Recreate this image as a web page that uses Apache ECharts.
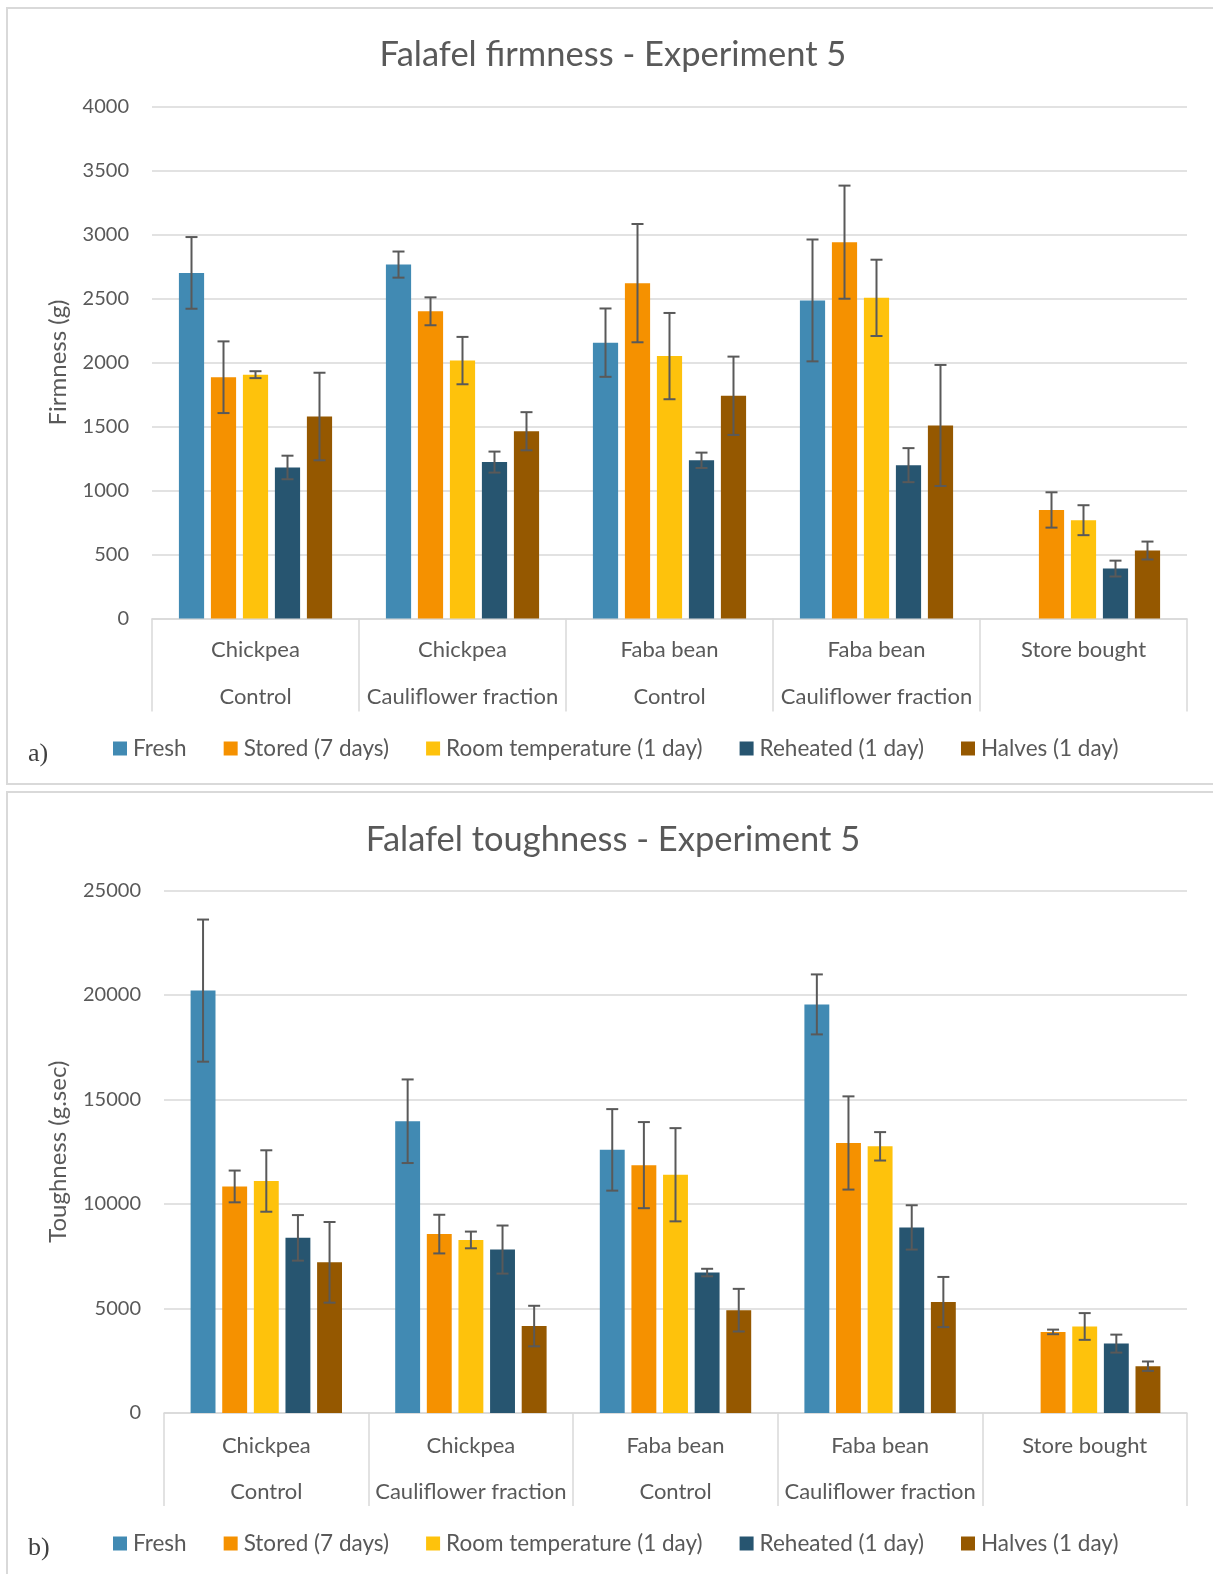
<!DOCTYPE html>
<html>
<head>
<meta charset="utf-8">
<title>Falafel texture - Experiment 5</title>
<script src="https://cdn.jsdelivr.net/npm/echarts@6/dist/echarts.min.js"></script>
<style>
  html, body { margin: 0; padding: 0; background: #fff; }
  #wrap { position: relative; width: 1213px; height: 1574px; overflow: hidden; }
  .panel { position: absolute; border: 2px solid #d9d9d9; box-sizing: border-box; }
  #chart { position: absolute; left: 0; top: 0; width: 1213px; height: 1574px; }
</style>
</head>
<body>
<div id="wrap">
  <div class="panel" style="left:6px; top:7px; width:1220px; height:778px;"></div>
  <div class="panel" style="left:6px; top:791px; width:1220px; height:800px;"></div>
  <div id="chart"></div>
</div>
<script>
// Sample groups on the category axis (two-level labels)
const categories = [
  'Chickpea\nControl',
  'Chickpea\nCauliflower fraction',
  'Faba bean\nControl',
  'Faba bean\nCauliflower fraction',
  'Store bought'
];

// Treatments, one bar series each
const seriesNames = ['Fresh', 'Stored (7 days)', 'Room temperature (1 day)', 'Reheated (1 day)', 'Halves (1 day)'];
const seriesColors = ['#418AB3', '#F59100', '#FEC20C', '#275570', '#955800'];

// Firmness (g), mean per group
const firmFresh    = [2700, 2765, 2155, 2485, null];
const firmStored   = [1885, 2400, 2620, 2940, 848];
const firmRoom     = [1905, 2015, 2050, 2505, 768];
const firmReheated = [1180, 1222, 1236, 1198, 390];
const firmHalves   = [1578, 1463, 1740, 1508, 531];

// Firmness (g), error bar half-length
const firmErrFresh    = [280, 102, 267, 476, null];
const firmErrStored   = [280, 109, 462, 442, 138];
const firmErrRoom     = [27, 185, 337, 298, 117];
const firmErrReheated = [92, 82, 60, 133, 62];
const firmErrHalves   = [342, 149, 306, 473, 70];

// Toughness (g.sec), mean per group
const toughFresh    = [20210, 13960, 12590, 19550, null];
const toughStored   = [10840, 8560, 11860, 12920, 3880];
const toughRoom     = [11100, 8280, 11400, 12760, 4140];
const toughReheated = [8380, 7820, 6720, 8880, 3320];
const toughHalves   = [7210, 4160, 4920, 5310, 2240];

// Toughness (g.sec), error bar half-length
const toughErrFresh    = [3400, 2000, 1950, 1435, null];
const toughErrStored   = [760, 925, 2060, 2230, 110];
const toughErrRoom     = [1470, 400, 2230, 680, 640];
const toughErrReheated = [1090, 1150, 180, 1060, 430];
const toughErrHalves   = [1930, 970, 1020, 1200, 225];

// Axis ticks
const firmAxis  = { min: 0, max: 4000, interval: 500 };
const toughAxis = { min: 0, max: 25000, interval: 5000 };

const firmValues  = [firmFresh, firmStored, firmRoom, firmReheated, firmHalves];
const firmErrors  = [firmErrFresh, firmErrStored, firmErrRoom, firmErrReheated, firmErrHalves];
const toughValues = [toughFresh, toughStored, toughRoom, toughReheated, toughHalves];
const toughErrors = [toughErrFresh, toughErrStored, toughErrRoom, toughErrReheated, toughErrHalves];

const FONT = 'Lato';
const TEXT = '#595959';
const LINE = '#d9d9d9';
const CAT_GAP = 0.26;
const BAR_GAP = 0.27;

function barSeries(values, gridIdx) {
  return values.map((vals, s) => ({
    name: seriesNames[s],
    type: 'bar',
    xAxisIndex: gridIdx,
    yAxisIndex: gridIdx,
    barCategoryGap: (CAT_GAP * 100) + '%',
    barGap: (BAR_GAP * 100) + '%',
    itemStyle: { color: seriesColors[s] },
    data: vals.map(v => (v == null ? '-' : v))
  }));
}

function errorSeries(values, errors, gridIdx) {
  const data = [];
  values.forEach((vals, s) => {
    vals.forEach((v, c) => {
      const e = errors[s][c];
      if (v != null && e != null) data.push([c, s, v - e, v + e]);
    });
  });
  return {
    type: 'custom',
    xAxisIndex: gridIdx,
    yAxisIndex: gridIdx,
    z: 5,
    silent: true,
    encode: { x: 0, y: [2, 3] },
    data: data,
    renderItem: function (params, api) {
      const c = api.value(0), s = api.value(1);
      const lo = api.coord([c, api.value(2)]);
      const hi = api.coord([c, api.value(3)]);
      const catW = api.size([1, 0])[0];
      const used = catW * (1 - CAT_GAP);
      const bw = used / (5 + 4 * BAR_GAP);
      const x = lo[0] - used / 2 + s * bw * (1 + BAR_GAP) + bw / 2;
      const cap = 6;
      const st = { stroke: '#595959', lineWidth: 2 };
      return {
        type: 'group',
        children: [
          { type: 'line', shape: { x1: x, y1: lo[1], x2: x, y2: hi[1] }, style: st },
          { type: 'line', shape: { x1: x - cap, y1: hi[1], x2: x + cap, y2: hi[1] }, style: st },
          { type: 'line', shape: { x1: x - cap, y1: lo[1], x2: x + cap, y2: lo[1] }, style: st }
        ]
      };
    }
  };
}

function xAxisCfg(gridIdx, tickLen, margin, lineH) {
  return {
    type: 'category',
    gridIndex: gridIdx,
    data: categories,
    axisLine: { lineStyle: { color: LINE, width: 1.5 } },
    axisTick: { show: true, interval: 0, length: tickLen, lineStyle: { color: LINE, width: 1.5 } },
    axisLabel: {
      interval: 0, margin: margin, color: TEXT, fontFamily: FONT, fontSize: 22,
      lineHeight: lineH, verticalAlign: 'top'
    }
  };
}

function yAxisCfg(gridIdx, ax, name, nameGap) {
  return {
    type: 'value',
    gridIndex: gridIdx,
    min: ax.min, max: ax.max, interval: ax.interval,
    name: name,
    nameLocation: 'middle',
    nameGap: nameGap,
    nameTextStyle: { color: TEXT, fontFamily: FONT, fontSize: 24 },
    axisLine: { show: false },
    axisTick: { show: false },
    axisLabel: { color: TEXT, fontFamily: FONT, fontSize: 20, margin: 23, formatter: v => String(v) },
    splitLine: { lineStyle: { color: LINE, width: 1.5 } }
  };
}

function legendCfg(top) {
  return {
    left: 113, top: top, padding: 0,
    icon: 'rect', itemWidth: 14, itemHeight: 14, itemGap: 37,
    selectedMode: false,
    data: seriesNames,
    textStyle: { color: TEXT, fontFamily: FONT, fontSize: 22.5, padding: [0, 0, 0, 1] }
  };
}

const chart = echarts.init(document.getElementById('chart'), null, { renderer: 'canvas' });
chart.setOption({
  animation: false,
  backgroundColor: 'transparent',
  title: [
    { text: 'Falafel firmness - Experiment 5', left: 608, top: 32, textAlign: 'center',
      textStyle: { color: TEXT, fontFamily: FONT, fontSize: 34.5, fontWeight: 'normal' } },
    { text: 'Falafel toughness - Experiment 5', left: 608, top: 817, textAlign: 'center',
      textStyle: { color: TEXT, fontFamily: FONT, fontSize: 34.5, fontWeight: 'normal' } }
  ],
  legend: [legendCfg(737), legendCfg(1532)],
  grid: [
    { left: 152, right: 26, top: 106.5, height: 512 },
    { left: 164, right: 26, top: 890.5, height: 522.5 }
  ],
  xAxis: [xAxisCfg(0, 93, 8, 47), xAxisCfg(1, 93, 10, 46)],
  yAxis: [
    yAxisCfg(0, firmAxis, 'Firmness (g)', 82),
    yAxisCfg(1, toughAxis, 'Toughness (g.sec)', 94)
  ],
  graphic: [
    { type: 'text', left: 28, top: 741, style: { text: 'a)', font: '26px "Liberation Serif"', fill: '#404040' } },
    { type: 'text', left: 28, top: 1535, style: { text: 'b)', font: '26px "Liberation Serif"', fill: '#404040' } }
  ],
  series: [
    ...barSeries(firmValues, 0),
    errorSeries(firmValues, firmErrors, 0),
    ...barSeries(toughValues, 1),
    errorSeries(toughValues, toughErrors, 1)
  ]
});
</script>
</body>
</html>
